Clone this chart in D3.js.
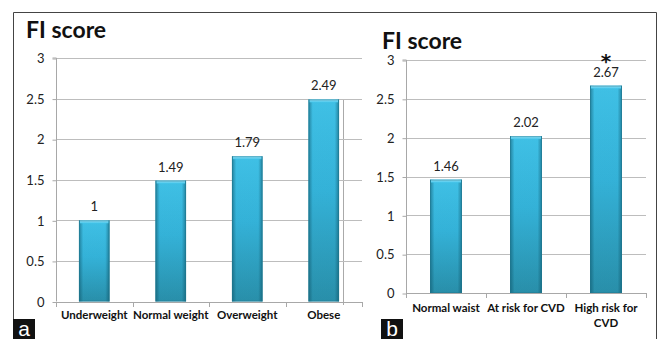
<!DOCTYPE html>
<html><head><meta charset="utf-8">
<script src="https://cdn.jsdelivr.net/npm/d3@7"></script>
<style>
html,body{margin:0;padding:0;background:#fff;}
svg{display:block;font-family:Lato,"Open Sans",sans-serif;}
</style></head>
<body>
<svg id="c" width="659" height="339"></svg>
<script>
const yTicks = [0, 0.5, 1, 1.5, 2, 2.5, 3];
const yTickLabels = ["0", "0.5", "1", "1.5", "2", "2.5", "3"];
const catsA = ["Underweight", "Normal weight", "Overweight", "Obese"];
const valsA = [1, 1.49, 1.79, 2.49];
const labelsA = ["1", "1.49", "1.79", "2.49"];
const catsB = ["Normal waist", "At risk for CVD", "High risk for|CVD"];
const valsB = [1.46, 2.02, 2.67];
const labelsB = ["1.46", "2.02", "2.67"];
const starsB = ["", "", "*"];
const titleText = "FI score";
const panelLetters = ["a", "b"];

const svg = d3.select("#c");
const defs = svg.append("defs");
const gv = defs.append("linearGradient").attr("id","gv").attr("x1",0).attr("y1",0).attr("x2",0).attr("y2",1);
gv.append("stop").attr("offset","0%").attr("stop-color","#42c6ec");
gv.append("stop").attr("offset","45%").attr("stop-color","#36b7de");
gv.append("stop").attr("offset","100%").attr("stop-color","#2a92ad");
const gh = defs.append("linearGradient").attr("id","gh").attr("x1",0).attr("y1",0).attr("x2",1).attr("y2",0);
gh.append("stop").attr("offset","0%").attr("stop-color","#0a4b5e").attr("stop-opacity",0.55);
gh.append("stop").attr("offset","14%").attr("stop-color","#0a4b5e").attr("stop-opacity",0.05);
gh.append("stop").attr("offset","86%").attr("stop-color","#0a4b5e").attr("stop-opacity",0.05);
gh.append("stop").attr("offset","100%").attr("stop-color","#0a4b5e").attr("stop-opacity",0.55);
const gt = defs.append("linearGradient").attr("id","gt").attr("x1",0).attr("y1",0).attr("x2",0).attr("y2",1);
gt.append("stop").attr("offset","0%").attr("stop-color","#9ae3f7");
gt.append("stop").attr("offset","100%").attr("stop-color","#45c5ea");

// frame
svg.append("path").attr("d","M13.5,339 V12.5 H656.5 V339").attr("fill","none").attr("stroke","#444").attr("stroke-width",1);
svg.append("line").attr("x1",343.5).attr("x2",343.5).attr("y1",100).attr("y2",305).attr("stroke","#aaa");

function panel(cfg){
  const g = svg.append("g");
  const y = d3.scaleLinear().domain([0,3]).range([cfg.y0, cfg.y3]);
  const x = d3.scaleBand().domain(cfg.cats).range([cfg.xl, cfg.xr]).paddingInner(0.6).paddingOuter(0.3);
  // gridlines
  g.selectAll("line.grid").data(yTicks.slice(1)).join("line")
    .attr("x1",cfg.xl).attr("x2",cfg.xr)
    .attr("y1",d=>Math.round(y(d))+0.5).attr("y2",d=>Math.round(y(d))+0.5)
    .attr("stroke","#bdbdbd");
  // y axis
  const ya = d3.axisLeft(y).tickValues(yTicks).tickFormat((d,i)=>yTickLabels[i]).tickSize(4).tickPadding(8);
  const yg = g.append("g").attr("transform",`translate(${cfg.xl+0.5},0.5)`).call(ya);
  yg.select(".domain").attr("stroke","#a8a8a8").attr("d",`M-4,${y(3)-0.5}H0V${y(0)-0.5}`);
  yg.selectAll(".tick line").attr("stroke","#a8a8a8");
  yg.selectAll(".tick text").attr("font-size",13).attr("fill","#222").attr("font-family","Lato,sans-serif");
  // x axis
  const xa = g.append("g");
  xa.append("line").attr("x1",cfg.xl).attr("x2",cfg.xr).attr("y1",Math.round(cfg.y0)+0.5).attr("y2",Math.round(cfg.y0)+0.5).attr("stroke","#a8a8a8");
  const edges = d3.range(cfg.cats.length+1).map(i=>cfg.xl + i*(cfg.xr-cfg.xl)/cfg.cats.length);
  xa.selectAll("line.t").data(edges).join("line")
    .attr("x1",d=>Math.round(d)+0.5).attr("x2",d=>Math.round(d)+0.5)
    .attr("y1",Math.round(cfg.y0)).attr("y2",Math.round(cfg.y0)+5).attr("stroke","#a8a8a8");
  // bars
  const bars = g.selectAll("g.bar").data(cfg.vals).join("g");
  bars.append("rect").attr("x",(d,i)=>x(cfg.cats[i])).attr("width",x.bandwidth())
    .attr("y",d=>y(d)).attr("height",d=>y(0)-y(d)).attr("fill","url(#gv)");
  bars.append("rect").attr("x",(d,i)=>x(cfg.cats[i])).attr("width",x.bandwidth())
    .attr("y",d=>y(d)).attr("height",d=>y(0)-y(d)).attr("fill","url(#gh)");
  bars.append("rect").attr("x",(d,i)=>x(cfg.cats[i])+1).attr("width",x.bandwidth()-2)
    .attr("y",d=>y(d)).attr("height",3).attr("fill","url(#gt)");
  bars.append("rect").attr("x",(d,i)=>x(cfg.cats[i])+0.5).attr("width",x.bandwidth()-1)
    .attr("y",d=>y(d)+0.5).attr("height",d=>y(0)-y(d)-1).attr("fill","none").attr("stroke","#1f7890").attr("stroke-opacity",0.5);
  // value labels
  g.selectAll("text.v").data(cfg.vals).join("text")
    .attr("x",(d,i)=>x(cfg.cats[i])+x.bandwidth()/2).attr("y",d=>y(d)-9)
    .attr("text-anchor","middle").attr("font-size",13).attr("fill","#222")
    .text((d,i)=>cfg.labels[i]);
  if(cfg.stars){
    g.selectAll("text.s").data(cfg.vals).join("text")
      .attr("x",(d,i)=>x(cfg.cats[i])+x.bandwidth()/2).attr("y",d=>y(d)-13)
      .attr("text-anchor","middle").attr("font-size",20).attr("font-weight","bold").attr("fill","#111")
      .attr("font-family","DejaVu Sans, sans-serif")
      .attr("dominant-baseline","text-after-edge")
      .text((d,i)=>cfg.stars[i]);
  }
  // category labels
  const cl = g.selectAll("text.c").data(cfg.cats).join("text")
    .attr("x",d=>x(d)+x.bandwidth()/2).attr("y",cfg.labY)
    .attr("text-anchor","middle").attr("font-size",11.5).attr("font-weight","bold").attr("fill","#111");
  cl.each(function(d){
    const parts = d.split("|");
    const t = d3.select(this);
    parts.forEach((p,k)=>t.append("tspan").attr("x",x(d)+x.bandwidth()/2).attr("dy",k?14.5:0).text(p));
  });
  // title
  g.append("text").attr("x",cfg.tx).attr("y",cfg.ty).attr("font-size",23).attr("font-weight","bold").attr("fill","#111").text(titleText);
  // letter box
  g.append("rect").attr("x",cfg.lx).attr("y",319).attr("width",22).attr("height",20).attr("fill","#111");
  g.append("text").attr("x",cfg.lx+11).attr("y",336).attr("text-anchor","middle").attr("font-size",21)
    .attr("font-family","Liberation Sans, Arial, sans-serif").attr("fill","#fff").text(cfg.letter);
}

panel({cats:catsA, vals:valsA, labels:labelsA, xl:56, xr:362, y0:301.5, y3:58, labY:319, tx:26, ty:38, lx:13, letter:panelLetters[0]});
panel({cats:catsB, vals:valsB, labels:labelsB, stars:starsB, xl:406, xr:646, y0:293, y3:60, labY:312, tx:382, ty:49, lx:381, letter:panelLetters[1]});
</script>
</body></html>
